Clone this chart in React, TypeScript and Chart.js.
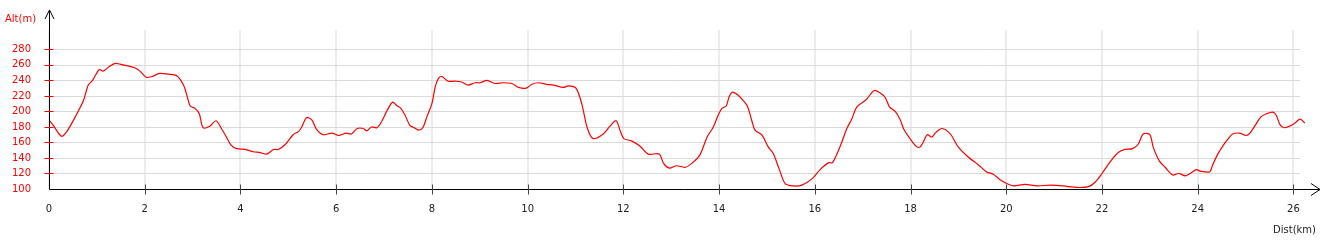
import React, { useEffect, useRef } from 'react';
import { Chart, registerables } from 'chart.js';

Chart.register(...registerables);

const distKm = [
  0.0, 0.09, 0.26, 0.37, 0.54, 0.72, 0.82, 0.91, 1.05, 1.13, 1.24, 1.38, 1.48, 1.62, 1.8, 1.9,
  2.03, 2.15, 2.31, 2.49, 2.67, 2.81, 2.88, 2.95, 3.05, 3.14, 3.22, 3.36, 3.49, 3.61, 3.68, 3.8,
  3.92, 4.1, 4.27, 4.41, 4.55, 4.69, 4.79, 4.93, 5.1, 5.21, 5.28, 5.38, 5.49, 5.59, 5.73, 5.91,
  6.05, 6.21, 6.32, 6.44, 6.57, 6.64, 6.74, 6.85, 6.95, 7.07, 7.18, 7.26, 7.35, 7.44, 7.54, 7.63,
  7.72, 7.81, 7.9, 8.0, 8.07, 8.14, 8.21, 8.34, 8.48, 8.62, 8.76, 8.9, 9.01, 9.15, 9.32, 9.49,
  9.67, 9.81, 9.97, 10.09, 10.22, 10.4, 10.54, 10.75, 10.85, 11.01, 11.13, 11.25, 11.37, 11.58,
  11.72, 11.85, 11.94, 12.01, 12.17, 12.35, 12.52, 12.75, 12.84, 12.96, 13.11, 13.29, 13.43,
  13.6, 13.75, 13.88, 13.98, 14.06, 14.15, 14.21, 14.28, 14.4, 14.49, 14.59, 14.68, 14.75, 14.89,
  15.03, 15.13, 15.26, 15.38, 15.55, 15.73, 15.94, 16.11, 16.29, 16.37, 16.53, 16.67, 16.77,
  16.88, 17.07, 17.24, 17.36, 17.47, 17.56, 17.68, 17.78, 17.86, 18.0, 18.12, 18.2, 18.27, 18.35,
  18.44, 18.53, 18.66, 18.83, 19.0, 19.21, 19.42, 19.59, 19.73, 19.87, 20.01, 20.15, 20.39, 20.64,
  20.92, 21.19, 21.47, 21.72, 21.86, 22.0, 22.17, 22.34, 22.48, 22.64, 22.76, 22.86, 23.0, 23.07,
  23.2, 23.32, 23.48, 23.6, 23.74, 23.84, 23.97, 24.05, 24.25, 24.3, 24.41, 24.54, 24.64, 24.73,
  24.87, 25.01, 25.09, 25.2, 25.32, 25.44, 25.57, 25.64, 25.72, 25.8, 25.92, 26.03, 26.14, 26.24,
];

const altM = [
  189, 182, 168, 174, 192, 214, 234, 240, 254, 252, 257, 262, 261, 259, 256, 252,
  244, 245, 249, 248, 246, 234, 221, 207, 204, 197, 179, 181, 188, 177, 170, 157,
  152, 151, 148, 147, 145, 151, 151, 157, 170, 174, 180, 192, 189, 177, 170, 172,
  169, 172, 171, 178, 178, 175, 180, 179, 187, 202, 212, 208, 204, 195, 182, 179,
  176, 179, 194, 210, 232, 243, 245, 239, 239, 238, 234, 237, 237, 240, 236, 237,
  236, 231, 230, 235, 237, 235, 234, 231, 233, 230, 210, 178, 165, 171,
  181, 188, 174, 165, 162, 155, 145, 145, 133, 127, 130, 128, 133,
  144, 167, 180, 195, 204, 207, 219, 225, 221, 215, 207, 189, 176, 170,
  154, 146, 125, 107, 104, 105, 113, 125, 134, 134, 155, 178, 190,
  206, 215, 227, 224, 218, 206, 200, 190, 177, 164, 155, 154, 161, 170,
  167, 173, 178, 171, 154, 141, 131, 122, 119, 112, 107, 104, 106, 104,
  105, 104, 102, 103, 109, 120, 135, 147, 151, 152, 158, 171, 170, 154,
  136, 128, 118, 120, 117, 120, 125, 123, 122, 129, 144, 157, 165, 171,
  172, 169, 172, 182, 193, 197, 199, 195, 183, 179, 181, 185, 190, 185,
];

const xTickValues = [0, 2, 4, 6, 8, 10, 12, 14, 16, 18, 20, 22, 24, 26];
const yTickValues = [100, 120, 140, 160, 180, 200, 220, 240, 260, 280];
const xAxisTitle = 'Dist(km)';
const yAxisTitle = 'Alt(m)';
const gridEndKm = 26.14;

const FONT = 'DejaVu Sans';

export default function App() {
  const canvasRef = useRef<HTMLCanvasElement | null>(null);

  useEffect(() => {
    document.body.style.margin = '0';
    const canvas = canvasRef.current;
    if (!canvas) return;

    const points = distKm.map((d, i) => ({ x: d, y: altM[i] }));

    const hGridPlugin = {
      id: 'hgrid',
      beforeDatasetsDraw(chart: any) {
        const ctx = chart.ctx;
        const xs = chart.scales.x;
        const ys = chart.scales.y;
        const x1 = xs.getPixelForValue(0);
        const x2 = Math.round(xs.getPixelForValue(gridEndKm));
        ctx.save();
        ctx.strokeStyle = '#dadada';
        ctx.lineWidth = 1;
        ctx.beginPath();
        yTickValues.forEach((v) => {
          const py = Math.round(ys.getPixelForValue(v)) + 0.5;
          ctx.moveTo(x1, py);
          ctx.lineTo(x2, py);
        });
        ctx.stroke();
        ctx.restore();
      },
    };

    const decorPlugin = {
      id: 'decor',
      afterDraw(chart: any) {
        const ctx = chart.ctx;
        const xs = chart.scales.x;
        const ys = chart.scales.y;
        const area = chart.chartArea;
        const ax = Math.round(xs.getPixelForValue(0)) + 0.5;
        const ay = Math.round(ys.getPixelForValue(100)) + 0.5;
        const topY = area.top - 20;
        const rightX = Math.round(xs.getPixelForValue(gridEndKm)) + 20;
        ctx.save();
        ctx.strokeStyle = '#000';
        ctx.lineWidth = 1;
        ctx.beginPath();
        ctx.moveTo(ax, ay);
        ctx.lineTo(ax, topY);
        ctx.moveTo(ax, ay);
        ctx.lineTo(rightX, ay);
        ctx.stroke();
        ctx.beginPath();
        ctx.moveTo(ax - 4.5, topY + 9);
        ctx.lineTo(ax, topY);
        ctx.lineTo(ax + 4.5, topY + 9);
        ctx.moveTo(rightX - 9, ay - 6);
        ctx.lineTo(rightX, ay);
        ctx.lineTo(rightX - 9, ay + 6);
        ctx.stroke();
        ctx.strokeStyle = '#444';
        ctx.beginPath();
        xTickValues.forEach((v) => {
          if (v === 0) return;
          const px = Math.round(xs.getPixelForValue(v)) + 0.5;
          ctx.moveTo(px, ay - 5);
          ctx.lineTo(px, ay + 5);
        });
        ctx.stroke();
        ctx.strokeStyle = '#ff0000';
        ctx.beginPath();
        yTickValues.forEach((v) => {
          if (v === 100) return;
          const py = Math.round(ys.getPixelForValue(v)) + 0.5;
          ctx.moveTo(ax - 5, py);
          ctx.lineTo(ax + 4, py);
        });
        ctx.stroke();
        ctx.font = `10px "${FONT}"`;
        ctx.textBaseline = 'middle';
        ctx.fillStyle = '#ff0000';
        ctx.textAlign = 'left';
        ctx.fillText(yAxisTitle, 5, 19);
        ctx.fillStyle = '#222';
        ctx.textAlign = 'right';
        ctx.fillText(xAxisTitle, 1316, 230);
        ctx.restore();
      },
    };

    const chart = new Chart(canvas, {
      type: 'line',
      data: {
        datasets: [
          {
            data: points,
            borderColor: '#ff0000',
            borderWidth: 1.2,
            pointRadius: 0,
            tension: 0.3,
            fill: false,
          },
        ],
      },
      options: {
        responsive: false,
        animation: false,
        devicePixelRatio: 1,
        layout: { padding: { top: 30, right: 20.6, left: 0, bottom: 0 } },
        plugins: {
          legend: { display: false },
          tooltip: { enabled: false },
        },
        scales: {
          x: {
            type: 'linear',
            min: 0,
            max: 26.25,
            afterFit: (scale: any) => {
              scale.height = 51;
            },
            afterBuildTicks: (scale: any) => {
              scale.ticks = xTickValues.map((v) => ({ value: v }));
            },
            ticks: {
              padding: 14,
              color: '#222',
              font: { family: FONT, size: 10 },
              maxRotation: 0,
              autoSkip: false,
              callback: (v: any) => String(v),
            },
            grid: { color: '#ececec', lineWidth: 2, drawTicks: false },
            border: { display: false },
          },
          y: {
            type: 'linear',
            min: 100,
            max: 305,
            afterFit: (scale: any) => {
              scale.width = 49;
            },
            afterBuildTicks: (scale: any) => {
              scale.ticks = yTickValues.map((v) => ({ value: v }));
            },
            ticks: {
              padding: 18,
              color: '#ff0000',
              font: { family: FONT, size: 10 },
              autoSkip: false,
              callback: (v: any) => String(v),
            },
            grid: { display: false, drawTicks: false },
            border: { display: false },
          },
        },
      },
      plugins: [hGridPlugin, decorPlugin],
    });

    return () => {
      chart.destroy();
    };
  }, []);

  return (
    <div style={{ position: 'absolute', left: 0, top: 0, width: 1326, height: 240 }}>
      <canvas ref={canvasRef} width={1326} height={240} />
    </div>
  );
}
